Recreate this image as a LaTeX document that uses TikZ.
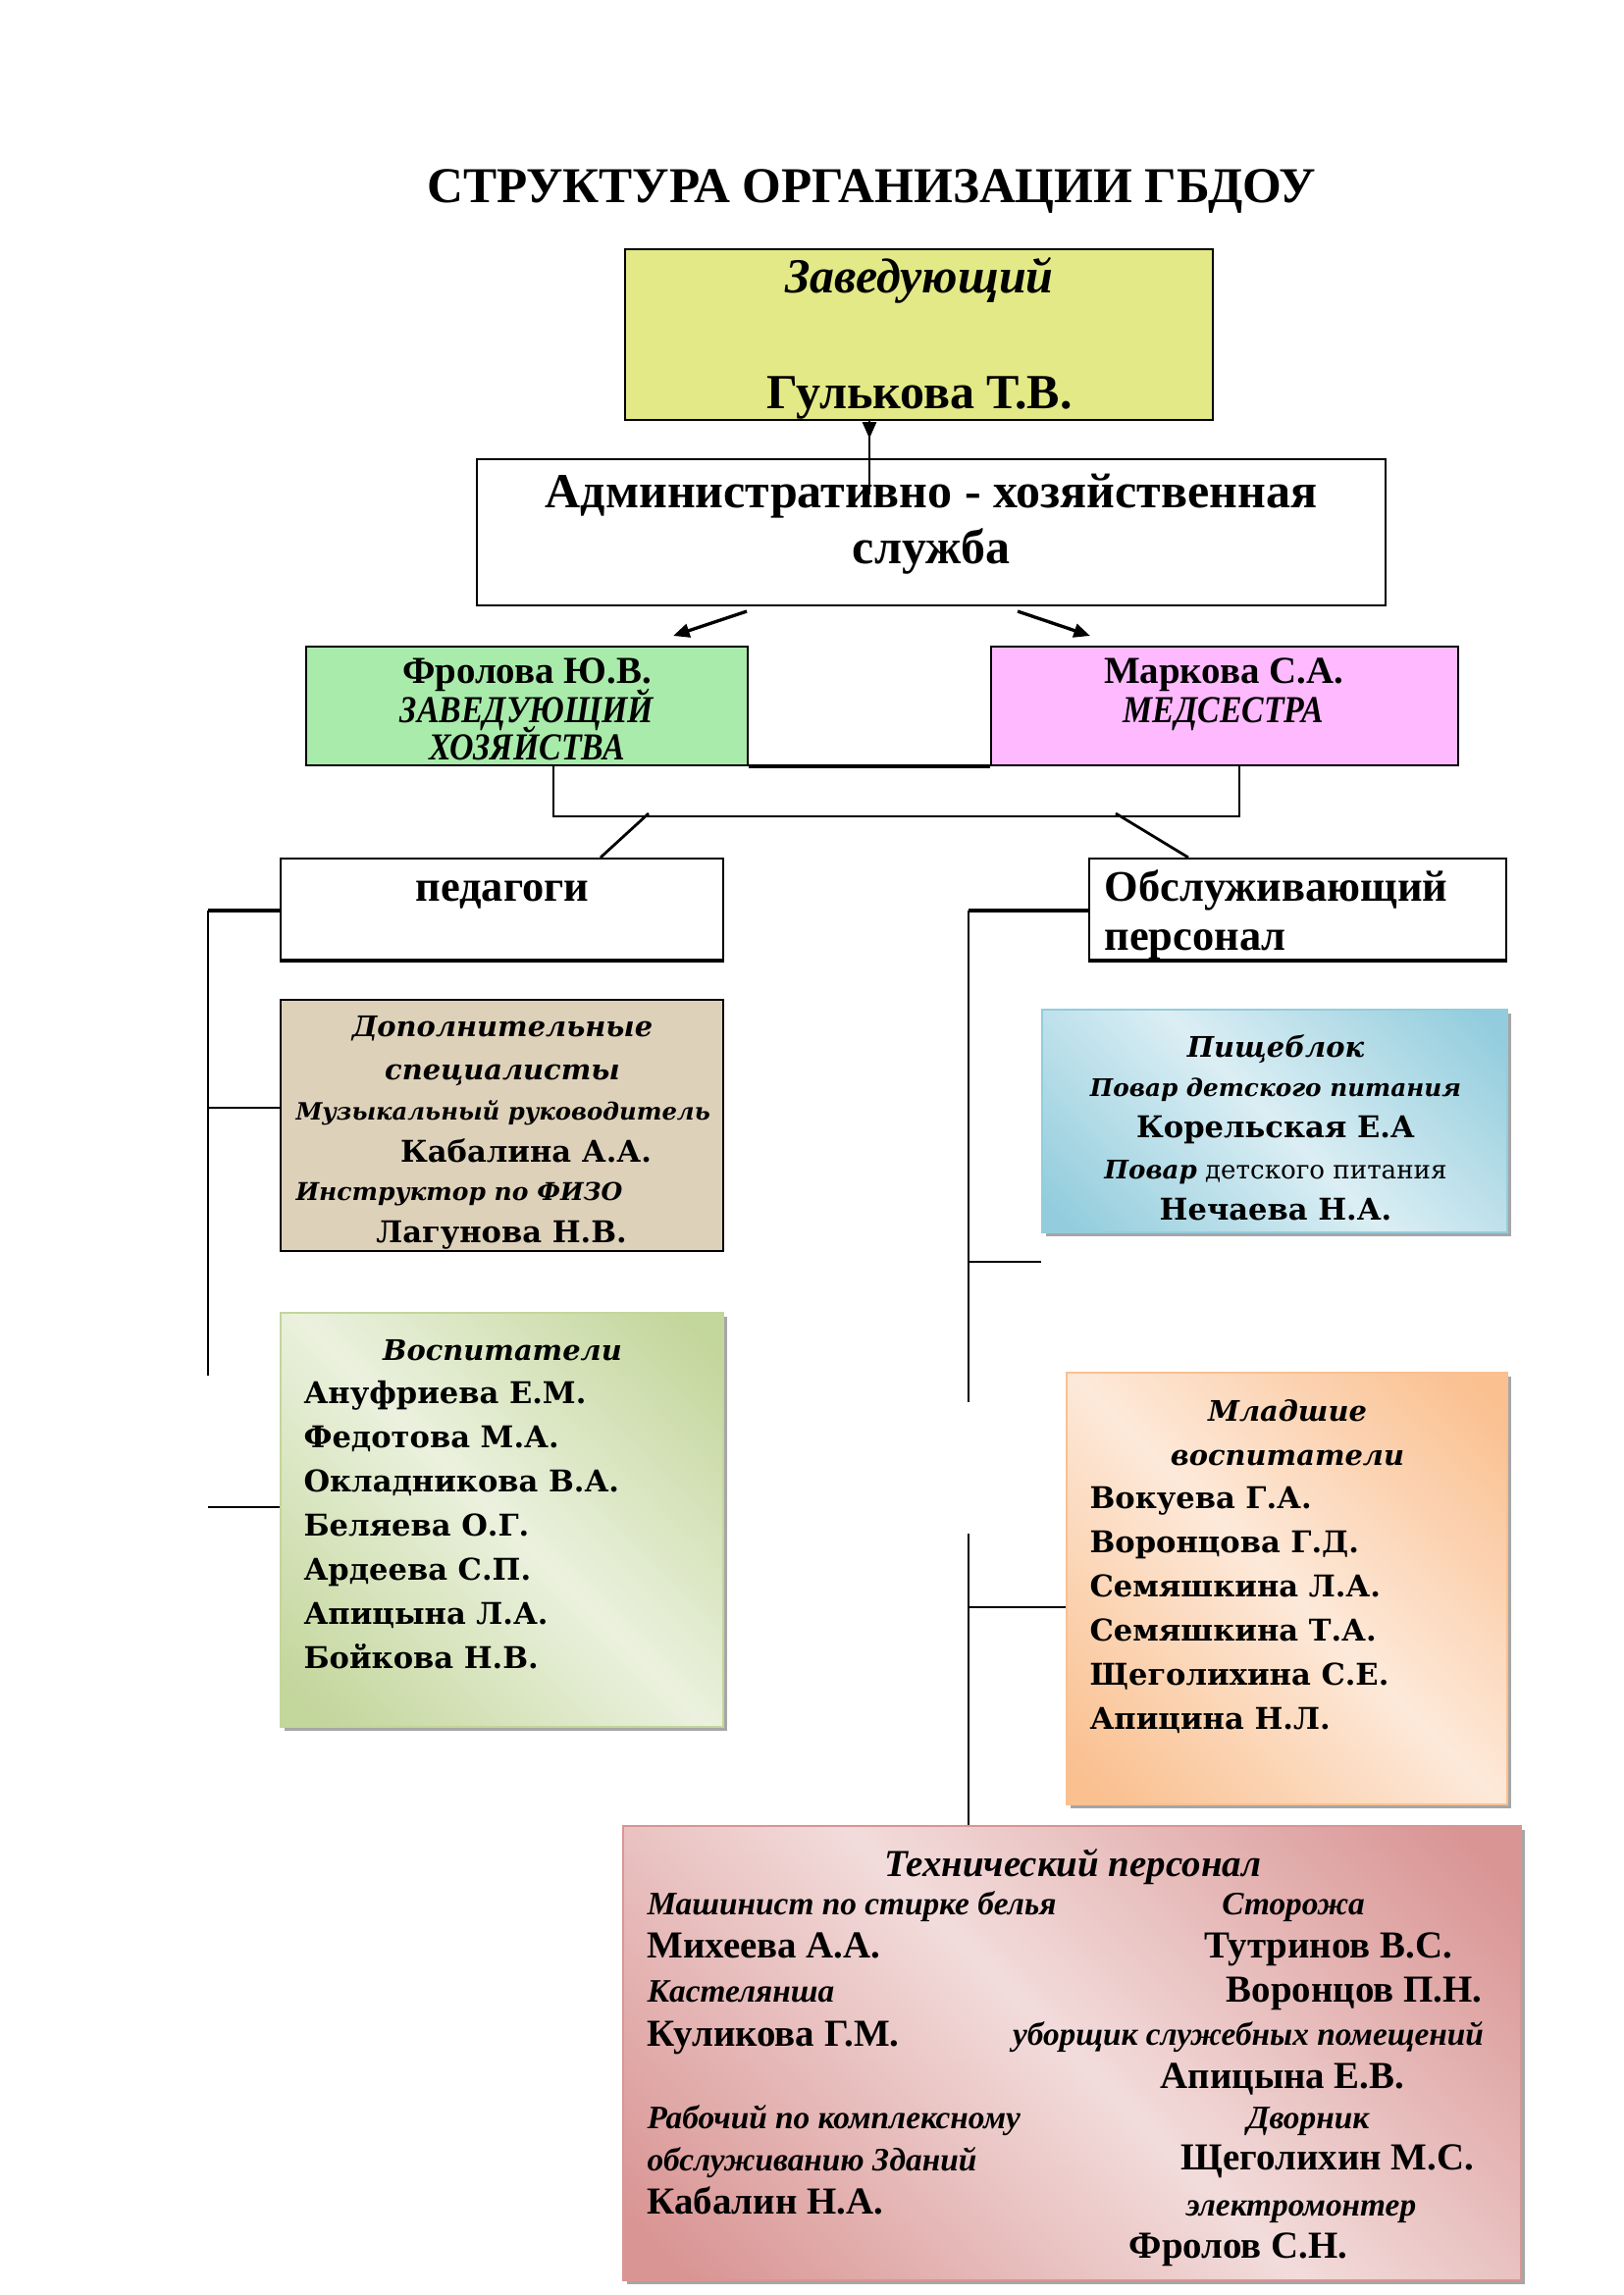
\documentclass[tikz,border=0pt]{standalone}
\usepackage{fontspec}
\setmainfont{Liberation Serif}
\newfontfamily\wide{DejaVu Serif}
\usetikzlibrary{fit,arrows.meta,shadows}
\definecolor{zavY}{HTML}{E3E986}
\definecolor{frG}{HTML}{A9EBAB}
\definecolor{mkP}{HTML}{FFBAFF}
\definecolor{dopT}{HTML}{DED1BA}
\definecolor{vosD}{HTML}{C3D69B}
\definecolor{vosL}{HTML}{EBF1DE}
\definecolor{piD}{HTML}{93CDDD}
\definecolor{piL}{HTML}{DBEEF4}
\definecolor{mlD}{HTML}{FAC090}
\definecolor{mlL}{HTML}{FDE9D9}
\definecolor{teD}{HTML}{D99594}
\definecolor{teL}{HTML}{F2DCDB}
\definecolor{shd}{HTML}{A6A6A6}
\pgfdeclarehorizontalshading{vosS}{100bp}{color(0bp)=(vosD); color(18bp)=(vosD); color(50bp)=(vosL); color(82bp)=(vosD); color(100bp)=(vosD)}
\pgfdeclarehorizontalshading{piS}{100bp}{color(0bp)=(piD); color(18bp)=(piD); color(50bp)=(piL); color(82bp)=(piD); color(100bp)=(piD)}
\pgfdeclarehorizontalshading{mlS}{100bp}{color(0bp)=(mlD); color(18bp)=(mlD); color(50bp)=(mlL); color(82bp)=(mlD); color(100bp)=(mlD)}
\pgfdeclarehorizontalshading{teS}{100bp}{color(0bp)=(teD); color(18bp)=(teD); color(50bp)=(teL); color(82bp)=(teD); color(100bp)=(teD)}
\newcommand\fs[1]{\fontsize{#1}{#1}\selectfont}
\newcommand\narrow[1]{\scalebox{0.87}[1]{#1}}
\tikzset{
  box/.style={draw, line width=0.8pt, inner sep=0pt},
  gbox/.style={draw=#1, line width=0.6pt, inner sep=0pt,
    drop shadow={shadow xshift=1.6pt, shadow yshift=-1.6pt, fill=shd, opacity=1}},
  conn/.style={line width=1pt},
  tip/.style={-{Triangle[length=6pt,width=5pt]}},
  tc/.style={inner sep=0pt, anchor=mid},
  tl/.style={inner sep=0pt, anchor=mid west},
  hd/.style={font=\fs{18}\bfseries},
  fr/.style={font=\fs{14}\bfseries},
  fri/.style={font=\fs{14}\bfseries\itshape},
  wbi/.style={font=\wide\fs{10.4}\bfseries\itshape},
  wsi/.style={font=\wide\fs{9}\bfseries\itshape},
  wb/.style={font=\wide\fs{11}\bfseries},
  tb/.style={font=\fs{14}\bfseries},
  ti/.style={font=\fs{12}\bfseries\itshape},
}
\begin{document}
\begin{tikzpicture}[x=0.36pt,y=-0.36pt]
\useasboundingbox[fill=white] (0,0) rectangle (1654,2339);

\node[tc, font=\fs{18.4}\bfseries] (title) at (888,200) {СТРУКТУРА ОРГАНИЗАЦИИ ГБДОУ};

% top boxes
\node[box, fill=zavY, fit={(637,254) (1236,428)}] (zav) {};
\node[tc, font=\fs{18}\bfseries\itshape] (zav1) at (937,292) {Заведующий};
\node[tc, hd] (zav2) at (937,410) {Гулькова Т.В.};

\node[box, fit={(486,468) (1412,617)}] (adm) {};
\node[tc, hd] (adm1) at (949,511) {Административно - хозяйственная};
\node[tc, hd] (adm2) at (949,568) {служба};

\coordinate (ax) at (886,0);
\draw[conn] (zav.south -| ax) -- ([yshift=-13.3pt]adm.north -| ax);
\draw[conn,tip] (zav.south -| ax) -- ([yshift=7.2pt]adm.north -| ax);

\node[box, fill=frG, fit={(312,659) (762,780)}] (fro) {};
\node[tc, fr] (fro1) at (537,690) {Фролова Ю.В.};
\node[tc, fri] (fro2) at (537,730) {\narrow{ЗАВЕДУЮЩИЙ}};
\node[tc, fri] (fro3) at (537,768) {\narrow{ХОЗЯЙСТВА}};

\node[box, fill=mkP, fit={(1010,659) (1486,780)}] (mar) {};
\node[tc, fr] (mar1) at (1247,690) {Маркова С.А.};
\node[tc, fri] (mar2) at (1247,730) {\narrow{МЕДСЕСТРА}};

\coordinate (a1s) at (761,623); \coordinate (a1e) at (686,648);
\coordinate (a2s) at (1037,623); \coordinate (a2e) at (1111,648);
\draw[line width=1.2pt,tip] (a1s) -- (a1e);
\draw[line width=1.2pt,tip] (a2s) -- (a2e);

\draw[line width=1.4pt] (fro.south east) -- (mar.south west);
\coordinate (bl) at (564,832); \coordinate (br) at (1263,832);
\draw[conn] (fro.south -| bl) -- (bl) -- (br) -- (mar.south -| br);

% second level
\node[box, fit={(286,875) (737,978)}] (ped) {};
\node[tc, font=\fs{16}\bfseries] (ped1) at (512,912) {педагоги};
\node[box, fit={(1110,875) (1535,978)}] (obs) {};
\node[tl, font=\fs{16}\bfseries] (obs1) at (1125,912) {Обслуживающий};
\node[tl, font=\fs{16}\bfseries] (obs2) at (1125,962) {персонал};
\draw[line width=1.3pt] (ped.south west) -- (ped.south east);
\draw[line width=1.3pt] (obs.south west) -- (obs.south east);

\coordinate (p1) at (661,829); \coordinate (p2) at (1137,829);
\draw[conn] (p1) -- (612,876 |- ped.north);
\draw[conn] (p2) -- (1211,876 |- obs.north);

% left branch
\node[box, fill=dopT, fit={(286,1019) (737,1275)}] (dop) {};
\node[tc, wbi] (dop1) at (512,1050) {Дополнительные};
\node[tc, wbi] (dop2) at (512,1094) {специалисты};
\node[tl, font=\wide\fs{8.75}\bfseries\itshape] (dop3) at (301,1135) {Музыкальный руководитель};
\node[tc, wb] (dop4) at (536,1178) {Кабалина А.А.};
\node[tl, wsi] (dop5) at (301,1217) {Инструктор по ФИЗО};
\node[tc, wb] (dop6) at (511,1260) {Лагунова Н.В.};

\node[gbox=vosD, shade, shading=vosS, shading angle=45, fit={(286,1338) (737,1760)}] (vos) {};
\node[tc, wbi] (vos0) at (512,1380) {Воспитатели};
\foreach \n [count=\i] in {Ануфриева Е.М., Федотова М.А., Окладникова В.А., Беляева О.Г., Ардеева С.П., Апицына Л.А., Бойкова Н.В.}
  \node[tl, wb] (vos\i) at (309,{1424+45*(\i-1)}) {\n};

\coordinate (ls1) at (212,928); \coordinate (ls2) at (212,1402);
\draw[conn] (ls1) -- (ls2);
\draw[line width=1.3pt] (ls1) -- (ls1 -| ped.west);
\coordinate (lh2) at (212,1129);
\draw[conn] (lh2) -- (lh2 -| dop.west);
\coordinate (lh3) at (212,1536);
\draw[conn] (lh3) -- (lh3 -| vos.west);

% right branch
\node[gbox=piD, shade, shading=piS, shading angle=45, fit={(1062,1029) (1536,1256)}] (pis) {};
\node[tc, wbi] (pis1) at (1300,1071) {Пищеблок};
\node[tc, font=\wide\fs{8.9}\bfseries\itshape] (pis2) at (1300,1111) {Повар детского питания};
\node[tc, wb] (pis3) at (1300,1153) {Корельская Е.А};
\node[tc, font=\wide\fs{9.4}] (pis4) at (1300,1195) {{\bfseries\itshape Повар} детского питания};
\node[tc, wb] (pis5) at (1300,1237) {Нечаева Н.А.};

\node[gbox=mlD, shade, shading=mlS, shading angle=45, fit={(1087,1399) (1536,1839)}] (mla) {};
\node[tc, wbi] (mla1) at (1312,1442) {Младшие};
\node[tc, wbi] (mla2) at (1312,1487) {воспитатели};
\foreach \n [count=\i] in {Вокуева Г.А., Воронцова Г.Д., Семяшкина Л.А., Семяшкина Т.А., Щеголихина С.Е., Апицина Н.Л.}
  \node[tl, wb] (mla\i x) at (1110,{1531+45*(\i-1)}) {\n};

\node[gbox=teD, shade, shading=teS, shading angle=45, fit={(635,1861) (1550,2324)}] (teh) {};
\node[tc, font=\fs{14}\bfseries\itshape] (teh0) at (1093,1906) {Технический персонал};
\node[tl, ti] (tl1) at (659,1945) {Машинист по стирке белья};
\node[tl, tb] (tl2) at (659,1989) {Михеева А.А.};
\node[tl, ti] (tl3) at (659,2034) {Кастелянша};
\node[tl, tb] (tl4) at (659,2079) {Куликова Г.М.};
\node[tl, ti] (tl5) at (659,2163) {Рабочий по комплексному};
\node[tl, ti] (tl6) at (659,2206) {обслуживанию Зданий};
\node[tl, tb] (tl7) at (659,2250) {Кабалин Н.А.};
\node[tc, ti] (tr1) at (1318,1945) {Сторожа};
\node[tc, tb] (tr2) at (1354,1989) {Тутринов В.С.};
\node[tc, tb] (tr3) at (1380,2034) {Воронцов П.Н.};
\node[tc, ti] (tr4) at (1272,2078) {уборщик служебных помещений};
\node[tc, tb] (tr5) at (1307,2122) {Апицына Е.В.};
\node[tc, ti] (tr6) at (1333,2163) {Дворник};
\node[tc, tb] (tr7) at (1353,2205) {Щеголихин М.С.};
\node[tc, ti] (tr8) at (1326,2252) {электромонтер};
\node[tc, tb] (tr9) at (1262,2295) {Фролов С.Н.};

\coordinate (rs1) at (987,928); \coordinate (rs2) at (987,1429);
\draw[conn] (rs1) -- (rs2);
\draw[line width=1.3pt] (rs1) -- (rs1 -| obs.west);
\coordinate (rh2) at (987,1286);
\draw[conn] (rh2) -- (rh2 -| pis.west);
\coordinate (rs3) at (987,1563);
\draw[conn] (rs3) -- (rs3 |- teh.north);
\coordinate (rh3) at (987,1638);
\draw[conn] (rh3) -- (rh3 -| mla.west);
\end{tikzpicture}
\end{document}
